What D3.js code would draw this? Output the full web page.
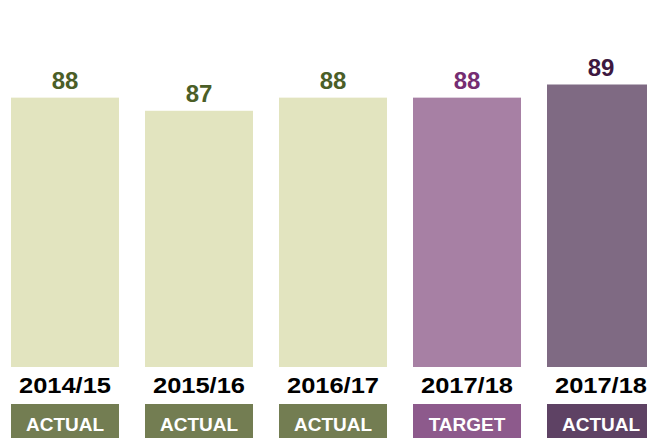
<!DOCTYPE html>
<html>
<head>
<meta charset="utf-8">
<script src="https://cdn.jsdelivr.net/npm/d3@7"></script>
<style>
  body { margin: 0; background: #fff; }
  svg { display: block; font-family: "Liberation Sans", Arial, Helvetica, sans-serif; font-weight: bold; }
</style>
</head>
<body>
<div id="chart"></div>
<script>
const years = ["2014/15", "2015/16", "2016/17", "2017/18", "2017/18"];
const values = [88, 87, 88, 88, 89];
const kinds = ["ACTUAL", "ACTUAL", "ACTUAL", "TARGET", "ACTUAL"];
const groups = ["past", "past", "past", "target", "latest"];

const width = 647, height = 438;

const barColor = { past: "#e2e4bf", target: "#a780a4", latest: "#7f6a83" };
const boxColor = { past: "#737d52", target: "#8d5a8c", latest: "#5e4264" };
const valueColor = { past: "#4b5e27", target: "#752d72", latest: "#3d1840" };

const x = d3.scaleBand()
  .domain(d3.range(values.length))
  .range([-2, 668])
  .paddingInner(26 / 134)
  .paddingOuter(13 / 134);

const y = d3.scaleLinear()
  .domain([67.5, 89])
  .range([367, 84.5]);

const svg = d3.select("#chart")
  .append("svg")
  .attr("width", width)
  .attr("height", height)
  .attr("viewBox", [0, 0, width, height]);

const g = svg.selectAll("g.bar")
  .data(values.map((v, i) => ({ v, i, year: years[i], kind: kinds[i], grp: groups[i] })))
  .join("g")
  .attr("class", "bar");

g.append("rect")
  .attr("x", d => x(d.i))
  .attr("y", d => y(d.v))
  .attr("width", x.bandwidth())
  .attr("height", d => y.range()[0] - y(d.v))
  .attr("fill", d => barColor[d.grp]);

g.append("text")
  .attr("x", d => x(d.i) + x.bandwidth() / 2)
  .attr("y", d => y(d.v) - 9)
  .attr("text-anchor", "middle")
  .attr("font-size", 24)
  .attr("fill", d => valueColor[d.grp])
  .text(d => d.v);

g.append("text")
  .attr("x", d => x(d.i) + x.bandwidth() / 2)
  .attr("y", 393)
  .attr("text-anchor", "middle")
  .attr("font-size", 22)
  .attr("textLength", 92)
  .attr("lengthAdjust", "spacingAndGlyphs")
  .attr("fill", "#000")
  .text(d => d.year);

g.append("rect")
  .attr("x", d => x(d.i))
  .attr("y", 404)
  .attr("width", x.bandwidth())
  .attr("height", 40)
  .attr("fill", d => boxColor[d.grp]);

g.append("text")
  .attr("x", d => x(d.i) + x.bandwidth() / 2)
  .attr("y", 430.5)
  .attr("text-anchor", "middle")
  .attr("font-size", 19)
  .attr("fill", "#fff")
  .text(d => d.kind);
</script>
</body>
</html>
